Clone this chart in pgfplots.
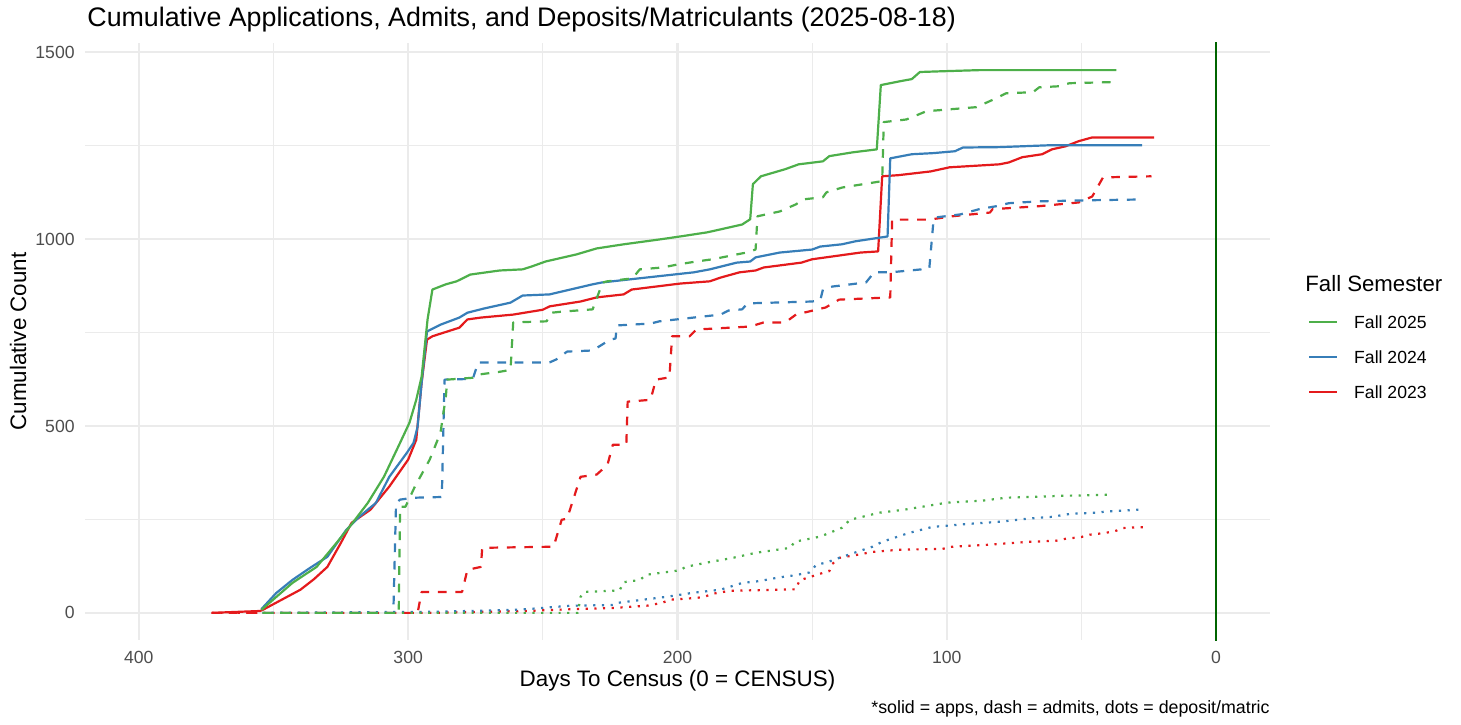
\documentclass[border=0pt]{standalone}
\usepackage{pgfplots}
\pgfplotsset{compat=1.18}
\usepackage{fontspec}
\setmainfont{Liberation Sans}
\definecolor{cR}{HTML}{E41A1C}
\definecolor{cB}{HTML}{377EB8}
\definecolor{cG}{HTML}{4DAF4A}
\definecolor{gridc}{HTML}{EBEBEB}
\definecolor{tickc}{HTML}{4D4D4D}
\definecolor{vlinec}{HTML}{006400}
\begin{document}
\begin{tikzpicture}
\useasboundingbox (0,0) rectangle (730.5pt,362pt);
\begin{axis}[
  at={(42.5pt,42pt)}, anchor=south west,
  scale only axis, width=592.5pt, height=298.5pt,
  x dir=reverse, xmin=-20, xmax=420, ymin=-72.6, ymax=1524.6,
  xtick={0,100,200,300,400}, minor xtick={50,150,250,350},
  ytick={0,500,1000,1500}, minor ytick={250,750,1250},
  grid=both,
  major grid style={draw=gridc, line width=1.15pt},
  minor grid style={draw=gridc, line width=0.6pt},
  axis line style={draw=none},
  major tick length=0pt, minor tick length=0pt,
  tick style={draw=none},
  /pgf/number format/assume math mode=true,
  /pgf/number format/1000 sep={},
  xticklabel style={font=\fontsize{8.8}{10}\selectfont, text=tickc, anchor=base, inner sep=0pt, yshift=-11.5pt},
  yticklabel style={font=\fontsize{8.8}{10}\selectfont, text=tickc, anchor=east, inner sep=0pt, xshift=-5pt},
  xlabel={Days To Census (0 = CENSUS)},
  ylabel={Cumulative Count},
  xlabel style={font=\fontsize{11.2}{13}\selectfont, at={(axis description cs:0.5,-0.0787)}, anchor=base, inner sep=0pt},
  ylabel style={font=\fontsize{11.2}{13}\selectfont, at={(axis description cs:-0.0565,0.5)}, anchor=center, inner sep=0pt},
  legend style={at={(1.0321,0.5431)}, anchor=north west, draw=none, fill=none,
    inner sep=0pt, outer sep=0pt, row sep=11.3pt,
    font=\fontsize{8.8}{10}\selectfont,
    nodes={inner sep=0pt, text height=6.2pt, text depth=0pt},
    /tikz/every odd column/.append style={column sep=8pt}},
  legend cell align=left,
  legend image code/.code={\draw[#1] (0pt,0pt) -- (14pt,0pt);},
  every axis plot/.append style={line width=1.1pt, line cap=butt, line join=round},
]
\addlegendimage{cG, solid, line width=1.1pt}
\addlegendentry{Fall 2025}
\addlegendimage{cB, solid, line width=1.1pt}
\addlegendentry{Fall 2024}
\addlegendimage{cR, solid, line width=1.1pt}
\addlegendentry{Fall 2023}

% ---------- Fall 2023 ----------
\addplot[cR, forget plot] coordinates {
(373,0) (355,5) (354,8) (347,35) (340,62) (335,90) (330,123) (325,187) (321,241) (314,276) (307,338) (300,410) (297,463) (295,616) (293,731) (291,740) (281,763) (278,785) (273,790) (261,798) (250,811) (247.5,820) (236,833) (230,844) (220,852) (217,865) (199,881) (188,887) (184,897) (177,911) (171,916) (168,924) (154,937) (150,946) (132,964) (125.5,967) (124,1168) (118,1171) (106,1181) (99,1192) (80.5,1200) (77,1205) (72,1219) (64.6,1227) (61,1240) (56,1248) (51,1262) (46,1272) (23,1272)};
\addplot[cR, forget plot, dash pattern=on 4.35pt off 4.35pt] coordinates {
(373,0) (296.5,0) (295,56) (280,56) (278,115) (273,123) (272.5,174) (246,177) (243,249) (241,252) (236,364) (230,370) (226,396) (224,450) (219,450) (218.5,565) (210,570) (208,624) (203,630) (202,740) (195.5,740) (193,758) (173,766) (168,777) (160,777) (156,798) (145,817) (140,838) (121,844) (120.3,1052) (106.5,1052) (98,1061) (84,1071) (83,1080) (65.7,1088) (51,1098) (46,1114) (42,1165) (24,1168)};
\addplot[cR, forget plot, dash pattern=on 1.1pt off 3.25pt] coordinates {
(373,0) (292,0) (256,5) (246,8) (234,11) (224,13) (218,16) (211.5,19) (205.6,27) (203,35) (199,37) (193,40) (190,43) (187,51) (180.7,59) (156,63) (154.7,87) (146,107) (143.6,112) (142.5,131) (140,147) (133.6,155) (127.6,163) (117.6,169) (101.7,171) (98,177) (85,182) (75.7,187) (69.4,190) (59.4,193) (56,198) (50,203) (47,209) (41,214) (37,220) (35,227) (25,230)};

% ---------- Fall 2024 ----------
\addplot[cB, forget plot] coordinates {
(354.5,10) (349,53) (343,88) (336.5,120) (330,150) (323,222) (318,258) (312,294) (307,364) (300.5,428) (298,455) (296.5,498) (295,616) (293,753) (288,771) (281,790) (278,803) (272,814) (262,830) (257.5,849) (247.5,852) (231.5,879) (228,884) (218,892) (194,911) (188,919) (178,937) (173,940) (171,951) (162,964) (150,972) (147,980) (139,986) (134,994) (122,1007) (121,1216) (113,1227) (105,1230) (97,1235) (94,1245) (80.5,1246) (62,1251) (27.5,1251)};
\addplot[cB, forget plot, dash pattern=on 4.35pt off 4.35pt] coordinates {
(354,0) (305.5,0) (304.5,294) (303,303) (298,308) (287.5,310) (286.5,624) (276,626) (274,670) (247.5,670) (245,678) (241,699) (231.5,702) (225,731) (223,734) (222.5,769) (210,774) (206.7,780) (184,798) (181,809) (176,812) (174,828) (150,833) (147,836) (146,865) (142.5,873) (130,884) (127,911) (121,911) (106.5,921) (105,1045) (104,1058) (95,1066) (88,1080) (81.6,1088) (77,1096) (65.7,1101) (46,1104) (27.5,1106)};
\addplot[cB, forget plot, dash pattern=on 1.1pt off 3.25pt] coordinates {
(354,0) (289,3) (261,8) (254,11) (240,19) (224,21) (222,27) (213,35) (204,43) (194,54) (184,62) (176,80) (169.6,85) (163,94) (157,100) (151,108) (148.4,129) (145,134) (140,147) (127.6,177) (124,190) (114,214) (108,225) (105.4,230) (92,238) (80,244) (70,252) (61,257) (54,265) (44.5,268) (41,271) (28.6,276)};

% ---------- Fall 2025 ----------
\addplot[cG, forget plot] coordinates {
(354.5,8) (343,80) (334,123) (326.5,188) (320.6,241) (315,294) (309,364) (303,455) (299.5,509) (297,570) (295,632) (292.8,785) (291,865) (286,879) (282,887) (277,905) (266,916) (257.5,919) (254,927) (249,940) (237.5,959) (230,975) (220,986) (206.7,999) (199,1007) (189,1018) (184,1026) (176,1039) (173,1053) (172,1147) (169,1168) (160,1187) (155,1200) (146,1208) (143.6,1222) (135,1232) (126,1240) (124.5,1412) (117.6,1422) (113,1428) (110,1447) (101.7,1449) (88,1452) (37,1452)};
\addplot[cG, forget plot, dash pattern=on 4.35pt off 4.35pt] coordinates {
(354,0) (303.5,0) (303,284) (301,284) (297.5,338) (292,410) (288,482) (286,579) (285.5,624) (276,629) (274.5,637) (266,645) (262,650) (261,777) (248.6,780) (246.8,803) (242.7,806) (231.5,812) (227.8,884) (226,887) (216.7,895) (214,919) (205.5,924) (200,932) (193,940) (187,946) (174.4,964) (171,972) (170.3,1061) (162,1074) (156,1093) (153.6,1106) (146,1112) (144.7,1125) (138.8,1138) (124,1155) (123.4,1313) (115,1320) (107.6,1342) (89,1353) (81.6,1377) (78,1390) (68,1393) (65.7,1406) (58,1409) (54.5,1417) (38.6,1420)};
\addplot[cG, forget plot, dash pattern=on 1.1pt off 3.25pt] coordinates {
(354,0) (237,0) (236,43) (234.5,56) (221.5,60) (220,82) (214,88) (211.5,102) (199,114) (197,123) (188,136) (179.6,147) (170.7,161) (158,174) (156.6,190) (147,204) (138.8,228) (136,249) (125,268) (115.8,276) (106.5,287) (99.8,295) (87,300) (78,308) (65,311) (58,313) (39.7,316)};

% vertical census line
\addplot[vlinec, line width=1.2pt, forget plot] coordinates {(0,-100) (0,1600)};
\end{axis}
\node[anchor=base west, inner sep=0pt, font=\fontsize{13.4}{15}\selectfont] at (43.5pt,348.5pt) {Cumulative Applications, Admits, and Deposits/Matriculants (2025-08-18)};
\node[anchor=base east, inner sep=0pt, font=\fontsize{8.9}{10}\selectfont] at (635pt,5.5pt) {*solid = apps, dash = admits, dots = deposit/matric};
\node[anchor=base west, inner sep=0pt, font=\fontsize{11.1}{13}\selectfont] at (652.5pt,216pt) {Fall Semester};
\end{tikzpicture}
\end{document}
